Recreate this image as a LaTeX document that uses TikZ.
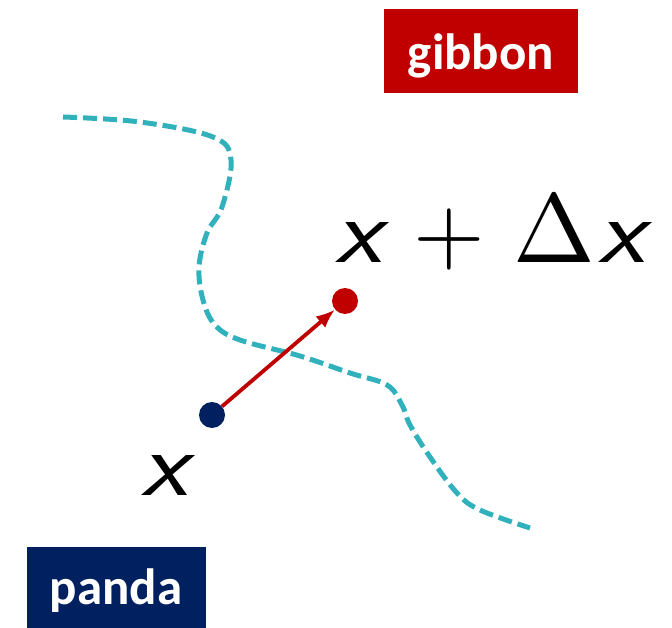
\documentclass[tikz,border=0pt]{standalone}
\usepackage[no-math]{fontspec}
\setmainfont{Liberation Sans}
\newfontfamily\labfont{Carlito}
\usetikzlibrary{arrows.meta}
\definecolor{gred}{HTML}{C00000}
\definecolor{pblue}{HTML}{002060}
\definecolor{bteal}{HTML}{31B1BC}
\newcommand{\bigx}{\scalebox{1.15}[1]{\fontsize{93}{93}\sffamily\itshape x}}
\begin{document}
\begin{tikzpicture}[x=1pt,y=-1pt,
  labbox/.style={inner sep=0pt,text=white,font=\labfont\bfseries\fontsize{51}{51}\selectfont},
  dot/.style={circle,inner sep=0pt,minimum size=26pt},
  bound/.style={bteal,line width=5pt,dash pattern=on 14pt off 6pt},
  mathlab/.style={inner sep=0pt,font=\fontsize{10}{12}\selectfont}]
\useasboundingbox (0,0) rectangle (672,628);
\fill[gred] (384,9) rectangle (578,93);
\fill[pblue] (27,547) rectangle (206,628);
\node[labbox,anchor=base] (g) at (481,70) {gibbon};
\node[labbox,anchor=base] (p) at (116,604) {panda};
\draw[bound] plot[smooth,tension=0.6] coordinates {(63,117) (140,122) (213,137) (231,160) (222,207) (207,233) (199,267) (203,300) (215,325) (240,340) (300,356) (350,373) (387,385) (402,405) (410,425) (430,457) (457,493) (480,510) (530,528)};
\node[dot,fill=pblue] (b) at (212,415) {};
\node[dot,fill=gred] (r) at (345,301) {};
\draw[gred,line width=3.8pt,-{Latex[length=19pt,width=15pt]}] (b) -- (r);
\node[mathlab,anchor=base west] (xl) at (141,495) {\bigx};
\node[mathlab,anchor=base west] (xd) at (335,263) {\rlap{\bigx}\hspace{78pt}\rlap{\scalebox{9.2}{$+$}}\hspace{100pt}\rlap{\scalebox{9.8}{$\Delta$}}\hspace{85pt}\bigx};
\end{tikzpicture}
\end{document}
